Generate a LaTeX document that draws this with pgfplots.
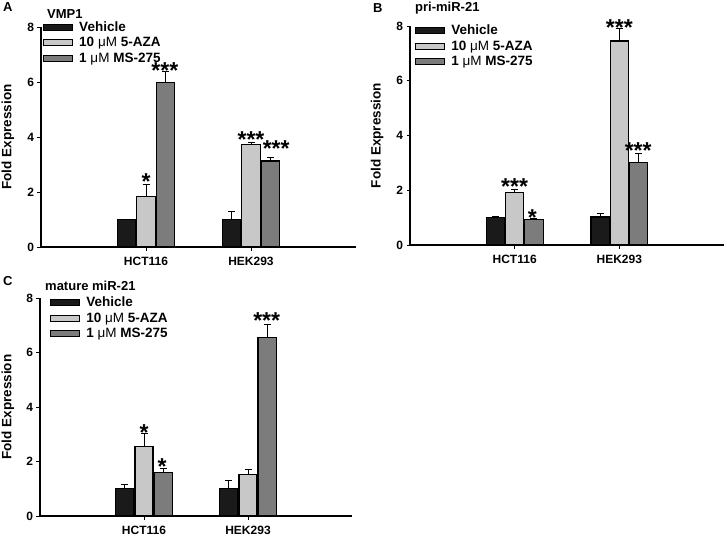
\documentclass[border=0pt]{standalone}
\usepackage{fontspec}
\setmainfont{Liberation Sans}
\usepackage{pgfplots}
\pgfplotsset{compat=1.18}
\definecolor{cveh}{HTML}{1A1A1A}
\definecolor{caza}{HTML}{C8C8C8}
\definecolor{cms}{HTML}{7C7C7C}
\newcommand{\fs}[1]{\fontsize{#1}{#1}\selectfont\bfseries}
\newcommand{\um}{{\mdseries μM}}
\tikzset{stars/.style={font=\fs{23}, inner sep=0pt, anchor=base, yshift=-12.8pt}}
\pgfplotsset{
 panel/.style={
  scale only axis, clip=false,
  xmin=0, xmax=3, ymin=0, ymax=8,
  axis lines=left, axis line style={-, line width=1.2pt},
  xtick={1,2}, xticklabels={HCT116,HEK293},
  ytick={0,2,4,6,8},
  tick align=outside, tick style={line width=1pt, black}, major tick length=3.5pt,
  /pgf/number format/assume math mode=true,
  ticklabel style={font=\fs{12}},
  xticklabel style={yshift=-3pt},
  ylabel={Fold Expression},
  ylabel style={font=\fs{13.5}, anchor=center},
  ybar=1pt, bar width=0.175,
  legend style={draw=none, fill=none, font=\fs{13.5}, anchor=north west, inner sep=0pt,
    row sep=6.5pt, nodes={inner sep=0pt, text height=9pt, text depth=0pt}},
  legend cell align=left,
 },
 bar/.style={draw=black, line width=1.3pt,
   legend image code/.code={\draw[##1, line width=1pt] (0.5pt,-3.5pt) rectangle (29.5pt,2.5pt);
      \path (35.5pt,0pt);},
   error bars/y dir=plus, error bars/y explicit,
   error bars/error bar style={line width=1pt, black, solid},
   error bars/error mark options={rotate=90, mark size=3.5pt, line width=1pt, black, solid}},
 veh/.style={bar, fill=cveh},
 aza/.style={bar, fill=caza},
 ms/.style={bar, fill=cms},
}
\begin{document}
\begin{tikzpicture}
\useasboundingbox (0,0) rectangle (727pt,542pt);
% ---------------- Panel A ----------------
\begin{axis}[panel, at={(41pt,295pt)}, anchor=south west, width=315pt, height=220pt,
  ylabel style={at={(axis description cs:-0.105,0.5)}},
  legend style={at={(0.006,1.023)}}]
\addplot[veh] table[x=x,y=y,y error=e] {
x y e
1 1.00 0.00
2 1.00 0.29
};
\addplot[aza] table[x=x,y=y,y error=e] {
x y e
1 1.84 0.44
2 3.73 0.06
};
\addplot[ms] table[x=x,y=y,y error=e] {
x y e
1 5.97 0.40
2 3.13 0.12
};
\legend{Vehicle, 10 \um{} 5-AZA, 1 \um{} MS-275}
\node[stars] at (axis cs:1.0,2.54) {*};
\node[stars] at (axis cs:1.18,6.59) {***};
\node[stars] at (axis cs:2.0,4.07) {***};
\node[stars] at (axis cs:2.24,3.75) {***};
\end{axis}
% ---------------- Panel B ----------------
\begin{axis}[panel, at={(410pt,297pt)}, anchor=south west, width=314pt, height=219pt,
  ylabel style={at={(axis description cs:-0.105,0.5)}},
  legend style={at={(0.016,1.001)}}]
\addplot[veh] table[x=x,y=y,y error=e] {
x y e
1 1.00 0.04
2 1.02 0.12
};
\addplot[aza] table[x=x,y=y,y error=e] {
x y e
1 1.93 0.08
2 7.45 0.45
};
\addplot[ms] table[x=x,y=y,y error=e] {
x y e
1 0.92 0.04
2 3.02 0.32
};
\legend{Vehicle, 10 \um{} 5-AZA, 1 \um{} MS-275}
\node[stars] at (axis cs:1.0,2.33) {***};
\node[stars] at (axis cs:1.17,1.17) {*};
\node[stars] at (axis cs:2.0,8.12) {***};
\node[stars] at (axis cs:2.18,3.64) {***};
\end{axis}
% ---------------- Panel C ----------------
\begin{axis}[panel, at={(40pt,26pt)}, anchor=south west, width=312pt, height=218pt,
  ylabel style={at={(axis description cs:-0.103,0.5)}},
  legend style={at={(0.032,1.003)}}]
\addplot[veh] table[x=x,y=y,y error=e] {
x y e
1 1.00 0.17
2 1.02 0.28
};
\addplot[aza] table[x=x,y=y,y error=e] {
x y e
1 2.54 0.48
2 1.53 0.19
};
\addplot[ms] table[x=x,y=y,y error=e] {
x y e
1 1.59 0.17
2 6.55 0.47
};
\legend{Vehicle, 10 \um{} 5-AZA, 1 \um{} MS-275}
\node[stars] at (axis cs:1.0,3.25) {*};
\node[stars] at (axis cs:1.175,1.98) {*};
\node[stars] at (axis cs:2.18,7.36) {***};
\end{axis}
% ---------------- Panel letters and titles ----------------
\node[anchor=base west, font=\fs{13}, inner sep=0pt] at (3pt,530pt) {A};
\node[anchor=base west, font=\fs{13}, inner sep=0pt] at (47pt,523.7pt) {VMP1};
\node[anchor=base west, font=\fs{13}, inner sep=0pt] at (373pt,529.3pt) {B};
\node[anchor=base west, font=\fs{13}, inner sep=0pt] at (415pt,530.3pt) {pri-miR-21};
\node[anchor=base west, font=\fs{13}, inner sep=0pt] at (3pt,257pt) {C};
\node[anchor=base west, font=\fs{13}, inner sep=0pt] at (45pt,252pt) {mature miR-21};
\end{tikzpicture}
\end{document}
